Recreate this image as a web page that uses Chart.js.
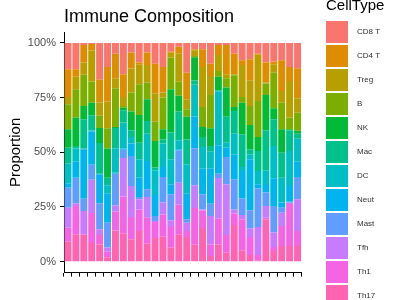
<!DOCTYPE html>
<html>
<head>
<meta charset="utf-8">
<script src="https://cdn.jsdelivr.net/npm/chart.js@4"></script>
<style>
  html, body { margin: 0; padding: 0; background: #fff; }
</style>
</head>
<body>
<canvas id="comp" width="400" height="300"></canvas>
<script>
// samples (x labels are hidden in the original)
var samples = [];
for (var s = 1; s <= 30; s++) samples.push("S" + s);

var cellTypes = ["CD8 T", "CD4 T", "Treg", "B", "NK", "Mac", "DC", "Neut", "Mast", "Tfh", "Th1", "Th17"];
var colors = ["#F8766D", "#DE8C00", "#B79F00", "#7CAE00", "#00BA38", "#00C08B",
              "#00BFC4", "#00B4F0", "#619CFF", "#C77CFF", "#F564E3", "#FF64B0"];

// percent of each cell type per sample
var cd8  = [12, 12, 0.9, 0.5, 16.8, 11, 4.9, 14.3, 4.4, 9, 4.4, 9.5, 11, 4, 1.8, 13.6, 2.9, 2.9, 9.5, 0.9, 0.9, 4.9, 7.9, 7.5, 4.9, 9, 8.5, 7.9, 11, 11.6];
var cd4  = [12.7, 3.5, 8.1, 3, 10.4, 15.8, 11.3, 10.4, 7.3, 0.8, 5.7, 13.7, 11.7, 0.5, 3.1, 12.2, 0.5, 8.1, 5.6, 4.6, 13.7, 9.4, 2.2, 9.6, 0.5, 9.1, 1.2, 14.1, 6.4, 13.7];
var treg = [3.3, 5.7, 5.6, 14.1, 6.1, 12.2, 4.5, 4.1, 11, 9.1, 8, 12.8, 2.3, 2.2, 12.8, 4.5, 2.6, 18.3, 8.7, 7.3, 1.6, 0.5, 14.6, 11.7, 21.1, 0.5, 3.9, 5.3, 16.7, 6.6];
var bcell = [11.5, 12.9, 14.2, 9.7, 5.6, 9.3, 17.7, 0.8, 8.7, 14, 7.7, 8.8, 14.5, 14.5, 6.5, 3.5, 0.5, 9.1, 15.2, 2.7, 4.2, 14.5, 2.6, 8.7, 16.5, 5.2, 16.3, 12.2, 5.4, 8.3];
var nk   = [8.4, 13, 6.1, 5.8, 6.9, 13.3, 0.5, 1.2, 8.5, 12.7, 9.9, 12.2, 4.6, 19.8, 7.2, 10.3, 10.7, 4.6, 8.1, 6.1, 13.3, 1.8, 14.5, 11.1, 6.4, 16.1, 5, 10.7, 0.5, 1.3];
var mac  = [7.3, 1.2, 13.4, 6.9, 14, 3.5, 9.2, 5.6, 3.1, 7.6, 5.8, 1.2, 1.9, 12.2, 13.1, 11.4, 1.9, 4.6, 2.6, 0.5, 11.9, 10.4, 14.9, 2.3, 9.1, 18.3, 12.2, 11.4, 9.4, 2.3];
var dc   = [9, 6, 0.3, 0.5, 0.5, 3.8, 11.2, 11.9, 3, 8.4, 12.5, 11.3, 10.7, 11.4, 4.1, 13.4, 14.5, 9.9, 7.6, 24.7, 2.3, 9.4, 1.8, 2.3, 6.1, 6.7, 14.8, 11.4, 15.5, 10.5];
var neut = [2, 7.3, 22.6, 15.2, 13, 13.3, 0.5, 0.5, 5.7, 8.8, 12.9, 9.6, 4.6, 4.6, 0.5, 11.7, 14.5, 11.7, 16.2, 13, 4.2, 11.4, 12.5, 23.3, 1.9, 3.5, 12.6, 2.3, 7.7, 7];
var mast = [9.1, 11.7, 5.6, 6.9, 11.9, 11.3, 14.5, 3.8, 13.7, 1.1, 3.5, 2.3, 11.7, 11.9, 14.8, 1.6, 17, 6.9, 5.6, 2, 12.5, 13.8, 7.7, 8.3, 17.6, 6.1, 12.2, 2.3, 0.5, 10.2];
var tfh  = [9.2, 1.2, 10.7, 15.2, 2.6, 2, 2.8, 17.6, 14.2, 4.6, 9.5, 0.5, 5.4, 3, 10.1, 3.8, 10.4, 0.5, 13, 18.6, 23.2, 1.9, 1.9, 3.9, 12.9, 5.4, 6.6, 6.1, 0.5, 14.5];
var th1  = [6.4, 13, 0.3, 13.7, 4.3, 2.5, 8.7, 17, 10.2, 9.9, 11.9, 7.3, 10.2, 9.5, 13.7, 2.7, 16.8, 8, 5.3, 11.9, 8.1, 5.2, 14.2, 8.2, 2.5, 0.7, 1.8, 9.1, 19.2, 6.8];
var th17 = [9.1, 12.5, 12.2, 8.5, 7.9, 2, 14.2, 12.8, 10.2, 14, 8.2, 10.8, 11.4, 6.4, 12.3, 11.3, 7.7, 15.4, 2.6, 7.7, 4.1, 16.8, 5.2, 3.1, 0.5, 19.4, 4.9, 7.2, 7.2, 7.2];

var yTicks = [0, 25, 50, 75, 100];

var series = [cd8, cd4, treg, bcell, nk, mac, dc, neut, mast, tfh, th1, th17];

// ggplot puts the first level on top, so stack from the last one up
var datasets = [];
for (var i = cellTypes.length - 1; i >= 0; i--) {
  datasets.push({
    label: cellTypes[i],
    data: series[i],
    backgroundColor: colors[i],
    borderWidth: 0,
    categoryPercentage: 1,
    barPercentage: 0.88
  });
}

var FONT = "'Liberation Sans', Arial, sans-serif";

// title + legend drawn by hand so they sit where ggplot puts them
var decor = {
  id: "decor",
  afterDraw: function (chart) {
    var c = chart.ctx;
    c.save();
    c.fillStyle = "#000";
    c.textAlign = "left";
    c.textBaseline = "alphabetic";
    c.font = "18px " + FONT;
    c.fillText("Immune Composition", 64, 22);

    c.font = "15px " + FONT;
    c.fillText("CellType", 326, 10);

    c.font = "8px " + FONT;
    c.textBaseline = "middle";
    for (var k = 0; k < cellTypes.length; k++) {
      var y = 21 + k * 24;
      c.fillStyle = colors[k];
      c.fillRect(326, y, 22, 22);
      c.fillStyle = "#333";
      c.fillText(cellTypes[k], 357, y + 11);
    }
    c.restore();
  }
};

var ctx = document.getElementById("comp");

var myChart = new Chart(ctx, {
  type: "bar",
  data: {
    labels: samples,
    datasets: datasets
  },
  options: {
    responsive: false,
    animation: false,
    devicePixelRatio: 1,
    layout: { padding: { top: 32, right: 98.5, bottom: 0, left: 0 } },
    plugins: {
      legend: { display: false },
      tooltip: { enabled: false }
    },
    scales: {
      x: {
        stacked: true,
        offset: true,
        afterFit: function (scale) { scale.height = 27.4; },
        grid: { drawOnChartArea: false, drawTicks: true, tickLength: 4, tickColor: "#000", tickWidth: 1 },
        border: { display: true, color: "#000", width: 1 },
        ticks: { autoSkip: false, maxRotation: 0, callback: function () { return ""; } }
      },
      y: {
        stacked: true,
        min: -5,
        max: 105,
        afterFit: function (scale) { scale.width = 64; },
        afterBuildTicks: function (scale) {
          scale.ticks = yTicks.map(function (v) { return { value: v }; });
        },
        grid: { drawOnChartArea: false, drawTicks: true, tickLength: 4, tickColor: "#000", tickWidth: 1 },
        border: { display: true, color: "#000", width: 1 },
        ticks: {
          padding: 4,
          color: "#4d4d4d",
          font: { family: FONT, size: 11 },
          callback: function (v) { return v + "%"; }
        },
        title: {
          display: true,
          text: "Proportion",
          color: "#000",
          font: { family: FONT, size: 15 },
          padding: { top: 7, bottom: 0 }
        }
      }
    }
  },
  plugins: [decor]
});
</script>
</body>
</html>
